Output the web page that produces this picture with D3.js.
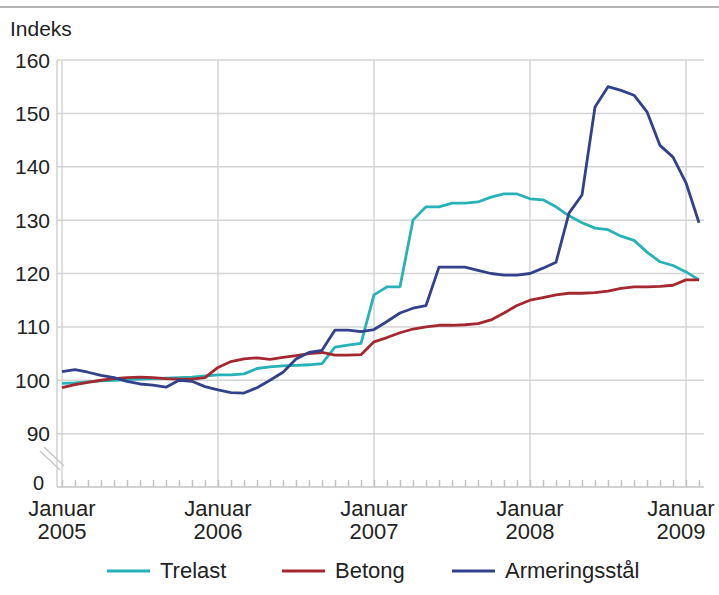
<!DOCTYPE html>
<html>
<head>
<meta charset="utf-8">
<script src="https://cdn.jsdelivr.net/npm/d3@7"></script>
<style>
  body { margin: 0; background: #fff; }
  text { font-family: "Liberation Sans", Arial, sans-serif; fill: #222; }
</style>
</head>
<body>
<div class="svg-container"></div>
<script>
// monthly index values, Jan 2005 - Feb 2009
const trelast = [
  99.4, 99.5, 99.7, 99.9, 100.0, 100.1, 100.2, 100.3, 100.4, 100.5, 100.6, 100.8,
  101.0, 101.0, 101.2, 102.2, 102.5, 102.7, 102.8, 102.9, 103.1, 106.2, 106.6, 106.9,
  116.0, 117.5, 117.5, 130.0, 132.5, 132.5, 133.2, 133.2, 133.4, 134.3, 134.9, 134.9,
  134.0, 133.8, 132.5, 130.8, 129.5, 128.5, 128.2, 127.0, 126.2, 124.0, 122.2, 121.5,
  120.3, 118.8
];
const betong = [
  98.6, 99.2, 99.6, 100.0, 100.3, 100.5, 100.6, 100.5, 100.3, 100.2, 100.2, 100.5,
  102.4, 103.5, 104.0, 104.2, 103.9, 104.3, 104.6, 105.0, 105.2, 104.7, 104.7, 104.8,
  107.2, 108.0, 108.9, 109.6, 110.0, 110.3, 110.3, 110.4, 110.6, 111.3, 112.6, 114.0,
  115.0, 115.5, 116.0, 116.3, 116.3, 116.4, 116.7, 117.2, 117.5, 117.5, 117.6, 117.8,
  118.8, 118.8
];
const armering = [
  101.6, 102.0, 101.5, 100.9, 100.5, 99.8, 99.3, 99.1, 98.7, 100.0, 99.8, 98.8,
  98.2, 97.7, 97.6, 98.6, 100.0, 101.5, 104.0, 105.2, 105.6, 109.4, 109.4, 109.1,
  109.5, 111.0, 112.6, 113.5, 114.0, 121.2, 121.2, 121.2, 120.6, 120.0, 119.7, 119.7,
  120.0, 121.0, 122.1, 131.3, 134.7, 151.2, 155.0, 154.3, 153.4, 150.3, 144.0, 141.8,
  137.0, 129.5
];
const seriesNames = ['Trelast', 'Betong', 'Armeringsstål'];
const colors = ['#27b2b7', '#a3282f', '#33418b'];
const yTicks = [90, 100, 110, 120, 130, 140, 150, 160];
const yearLabels = ['2005', '2006', '2007', '2008', '2009'];

const width = 719;
const height = 595;

const svg = d3.select('.svg-container')
  .append('svg')
  .attr('width', width)
  .attr('height', height);

// scales (month index on x, broken y axis with 0 drawn at 80)
const xScale = d3.scaleLinear().domain([0, 48]).range([62, 686]);
const yScale = d3.scaleLinear().domain([80, 160]).range([487, 60]);
const xLeft = 57, xRight = 704;

// top rule
svg.append('line')
  .attr('x1', 0).attr('x2', width).attr('y1', 7).attr('y2', 7)
  .attr('stroke', '#b5b5b5').attr('stroke-width', 2);

svg.append('text')
  .attr('x', 10).attr('y', 36)
  .attr('font-size', 21)
  .text('Indeks');

// horizontal grid
svg.selectAll('.hgrid')
  .data(yTicks)
  .join('line')
  .attr('class', 'hgrid')
  .attr('x1', xLeft).attr('x2', xRight)
  .attr('y1', d => yScale(d)).attr('y2', d => yScale(d))
  .attr('stroke', '#d4d4d4').attr('stroke-width', 1.5);

// vertical grid at each January
svg.selectAll('.vgrid')
  .data(d3.range(0, 49, 12))
  .join('line')
  .attr('class', 'vgrid')
  .attr('x1', d => xScale(d)).attr('x2', d => xScale(d))
  .attr('y1', yScale(160)).attr('y2', yScale(80))
  .attr('stroke', '#d4d4d4').attr('stroke-width', 1.5);

// left axis line
svg.append('line')
  .attr('x1', xLeft).attr('x2', xLeft)
  .attr('y1', yScale(160)).attr('y2', yScale(80))
  .attr('stroke', '#d0d0d0').attr('stroke-width', 1.5);

// bottom axis with monthly ticks
const xAxis = d3.axisBottom(xScale)
  .tickValues(d3.range(0, 50))
  .tickSize(-7)
  .tickFormat('');
svg.append('g')
  .attr('class', 'x-axis')
  .attr('transform', `translate(0, ${yScale(80)})`)
  .call(xAxis)
  .call(g => g.select('.domain').remove())
  .call(g => g.selectAll('line').attr('stroke', '#c4c4c4').attr('stroke-width', 1.5));

svg.append('line')
  .attr('x1', xLeft).attr('x2', xRight)
  .attr('y1', yScale(80)).attr('y2', yScale(80))
  .attr('stroke', '#c4c4c4').attr('stroke-width', 1.5);

// axis break
[0, 4].forEach(off => {
  svg.append('line')
    .attr('x1', 40 + off).attr('y1', 451 - off)
    .attr('x2', 60 + off).attr('y2', 470 - off)
    .attr('stroke', '#c8c8c8').attr('stroke-width', 1.5);
});

// y labels
svg.selectAll('.ylab')
  .data(yTicks)
  .join('text')
  .attr('class', 'ylab')
  .attr('x', 50)
  .attr('y', d => yScale(d))
  .attr('dy', '0.36em')
  .attr('text-anchor', 'end')
  .attr('font-size', 21)
  .text(d => d);
svg.append('text')
  .attr('x', 44).attr('y', yScale(80) - 4)
  .attr('dy', '0.36em')
  .attr('text-anchor', 'end')
  .attr('font-size', 20)
  .text('0');

// x labels
const xl = svg.selectAll('.xlab')
  .data(yearLabels)
  .join('text')
  .attr('class', 'xlab')
  .attr('font-size', 22)
  .attr('text-anchor', 'middle')
  .attr('transform', (d, i) => `translate(${Math.min(xScale(i * 12), 681)}, 0)`);
xl.append('tspan').attr('x', 0).attr('y', 516).text('Januar');
xl.append('tspan').attr('x', 0).attr('y', 539).text(d => d);

// lines
const line = d3.line()
  .x((d, i) => xScale(i))
  .y(d => yScale(d));

[trelast, betong, armering].forEach((s, k) => {
  svg.append('path')
    .datum(s)
    .attr('fill', 'none')
    .attr('stroke', colors[k])
    .attr('stroke-width', 2.8)
    .attr('stroke-linejoin', 'round')
    .attr('d', line);
});

// legend
const legendX = [107, 282, 452];
seriesNames.forEach((name, k) => {
  svg.append('line')
    .attr('x1', legendX[k]).attr('x2', legendX[k] + 43)
    .attr('y1', 571).attr('y2', 571)
    .attr('stroke', colors[k]).attr('stroke-width', 3);
  svg.append('text')
    .attr('x', legendX[k] + 53).attr('y', 578)
    .attr('font-size', 22)
    .text(name);
});
</script>
</body>
</html>
